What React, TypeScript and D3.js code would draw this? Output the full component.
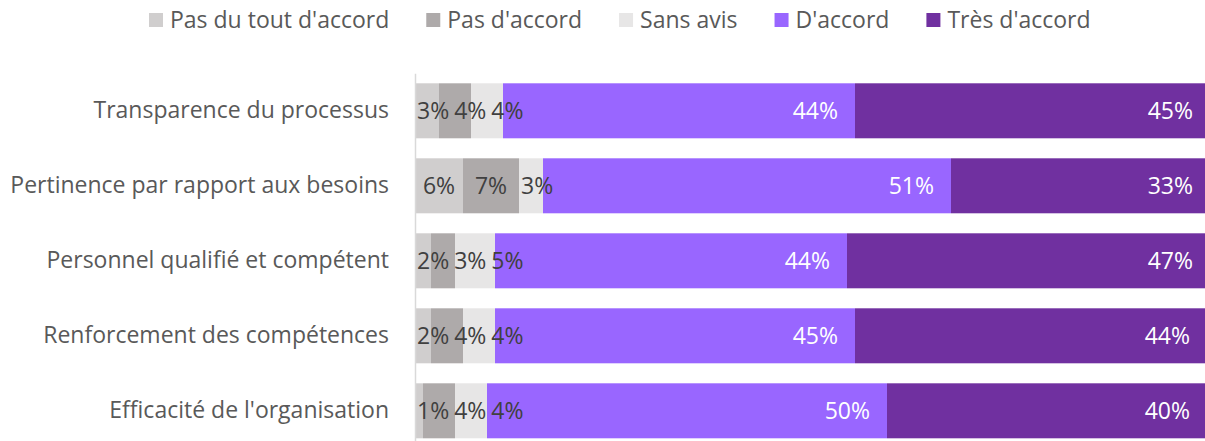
import React, { useEffect, useRef } from "react";
import * as d3 from "d3";

const categories = [
  "Transparence du processus",
  "Pertinence par rapport aux besoins",
  "Personnel qualifié et compétent",
  "Renforcement des compétences",
  "Efficacité de l'organisation",
];
const seriesNames = [
  "Pas du tout d'accord",
  "Pas d'accord",
  "Sans avis",
  "D'accord",
  "Très d'accord",
];
const pasDuTout = [3, 6, 2, 2, 1];
const pasDaccord = [4, 7, 3, 4, 4];
const sansAvis = [4, 3, 5, 4, 4];
const daccord = [44, 51, 44, 45, 50];
const tresDaccord = [45, 33, 47, 44, 40];

const colors = ["#d0cece", "#aeaaaa", "#e7e6e6", "#9966ff", "#7030a0"];
const labelColors = ["#404040", "#404040", "#404040", "#ffffff", "#ffffff"];
const FONT = "'Open Sans', sans-serif";
const FONT_SIZE = "23px";

const App = () => {
  const ref = useRef<SVGSVGElement>(null);

  useEffect(() => {
    document.body.style.margin = "0";
    const svg = d3.select(ref.current);
    svg.selectAll("*").remove();

    const rows = categories.map((c, i) => ({
      category: c,
      s0: pasDuTout[i],
      s1: pasDaccord[i],
      s2: sansAvis[i],
      s3: daccord[i],
      s4: tresDaccord[i],
    }));
    const keys = ["s0", "s1", "s2", "s3", "s4"];
    const stacked = d3.stack<any>().keys(keys)(rows);

    const x = d3.scaleLinear().domain([0, 100]).range([415, 1215]);
    const y = d3
      .scaleBand()
      .domain(categories)
      .range([73.3, 448.3])
      .paddingInner(0.2667)
      .paddingOuter(0.1333);

    // bars
    svg
      .append("g")
      .selectAll("g")
      .data(stacked)
      .enter()
      .append("g")
      .attr("fill", (d, i) => colors[i])
      .selectAll("rect")
      .data((d) => d)
      .enter()
      .append("rect")
      .attr("x", (d) => x(d[0]))
      .attr("width", (d) => x(d[1]) - x(d[0]))
      .attr("y", (d) => y(d.data.category)!)
      .attr("height", y.bandwidth());

    // category axis
    const axis = svg
      .append("g")
      .attr("transform", "translate(415,0)")
      .call(d3.axisLeft(y).tickSize(0).tickSizeOuter(0).tickPadding(26));
    axis.select(".domain").attr("stroke", "#d9d9d9").attr("stroke-width", 1.5);
    axis
      .selectAll("text")
      .attr("fill", "#595959")
      .style("font-family", FONT)
      .style("font-size", FONT_SIZE);

    // data labels: small ones centred and pushed right, large ones inside end
    const labels = svg.append("g").style("font-family", FONT).style("font-size", FONT_SIZE);
    categories.forEach((c, r) => {
      let prevRight = -Infinity;
      stacked.forEach((s, i) => {
        const d = s[r];
        const v = d[1] - d[0];
        const x0 = x(d[0]);
        const x1 = x(d[1]);
        const t = labels
          .append("text")
          .attr("y", y(c)! + y.bandwidth() / 2)
          .attr("dy", "0.35em")
          .attr("fill", labelColors[i])
          .text(v + "%");
        const w = (t.node() as SVGTextElement).getComputedTextLength();
        let left: number;
        if (i >= 3) {
          left = Math.min(x1, 1210) - 17 - w;
        } else {
          left = (x0 + x1) / 2 - w / 2;
          left = Math.max(left, x0 + 2, prevRight + 5);
        }
        t.attr("x", left);
        prevRight = left + w;
      });
    });

    // legend
    const legend = svg.append("g").style("font-family", FONT).style("font-size", FONT_SIZE);
    let lx = 149;
    seriesNames.forEach((n, i) => {
      legend
        .append("rect")
        .attr("x", lx)
        .attr("y", 13)
        .attr("width", 14)
        .attr("height", 14)
        .attr("fill", colors[i]);
      const t = legend
        .append("text")
        .attr("x", lx + 21)
        .attr("y", 20)
        .attr("dy", "0.35em")
        .attr("fill", "#595959")
        .text(n);
      lx += 21 + (t.node() as SVGTextElement).getComputedTextLength() + 37;
    });
  }, []);

  return (
    <svg
      ref={ref}
      width={1205}
      height={441}
      style={{ display: "block", background: "#fff" }}
    ></svg>
  );
};

export default App;
